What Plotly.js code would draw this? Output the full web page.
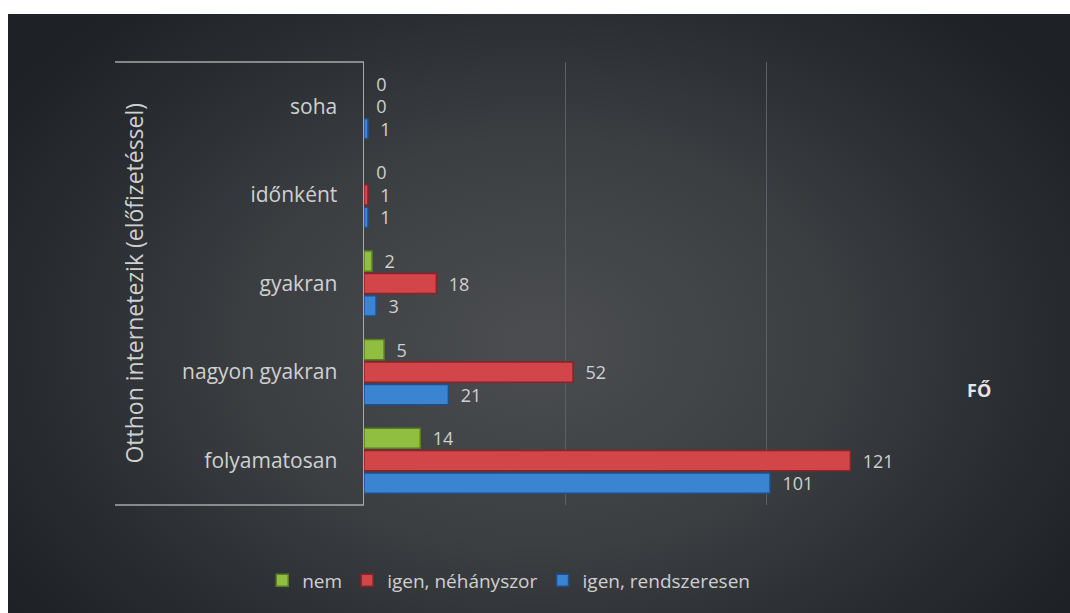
<!DOCTYPE html>
<html>
<head>
<meta charset="utf-8">
<script src="https://cdn.plot.ly/plotly-3.0.1.min.js"></script>
<style>
html,body{margin:0;padding:0;background:#ffffff;width:1070px;height:613px;overflow:hidden;}
#bg{position:absolute;left:8px;top:14px;width:1062px;height:599px;
background:radial-gradient(ellipse 60% 75% at 50% 55%, #4b4d50 0%, #3c3f42 45%, #2a2d31 75%, #1e2125 100%);}
#chart{position:absolute;left:0;top:0;width:1070px;height:613px;}
</style>
</head>
<body>
<div id="bg"></div>
<div id="chart"></div>
<script>
const categories = ["folyamatosan", "nagyon gyakran", "gyakran", "időnként", "soha"];
const seriesNames = ["igen, rendszeresen", "igen, néhányszor", "nem"];
const rendszeresen = [101, 21, 3, 1, 1];
const nehanyszor = [121, 52, 18, 1, 0];
const nem = [14, 5, 2, 0, 0];
const axisTitle = "Otthon internetezik (előfizetéssel)";
const unitLabel = "FŐ";

const fontFam = "'Open Sans', 'Noto Sans', sans-serif";
const txtCol = "#d0d0d0";

function mk(name, vals, fill, edge) {
  return {
    type: "bar", orientation: "h", name: name,
    y: categories, x: vals,
    texttemplate: "\u00a0\u00a0%{x}", textposition: "outside",
    constraintext: "none", cliponaxis: false,
    textfont: {family: fontFam, size: 18, color: txtCol},
    marker: {color: fill, line: {color: edge, width: vals.map(v => v > 0 ? 1.5 : 0)}},
    hoverinfo: "x+name"
  };
}

const data = [
  mk(seriesNames[0], rendszeresen, "#3a84d2", "#1f4f8a"),
  mk(seriesNames[1], nehanyszor, "#d2464a", "#8a2227"),
  mk(seriesNames[2], nem, "#8fbe40", "#5a7d22")
];

const layout = {
  width: 1070, height: 613,
  paper_bgcolor: "rgba(0,0,0,0)", plot_bgcolor: "rgba(0,0,0,0)",
  margin: {l: 364, r: 103, t: 62, b: 108},
  barmode: "group", bargap: 0.24, bargroupgap: 0.1,
  font: {family: fontFam, color: txtCol},
  xaxis: {range: [0, 150], dtick: 50, showticklabels: false, zeroline: false,
          showgrid: true, gridcolor: "#5c5f63", gridwidth: 1, fixedrange: true},
  yaxis: {type: "category", showline: true, linecolor: "#a9a9a9", linewidth: 1.5,
          showgrid: false, ticks: "", ticklabelstandoff: 21,
          tickfont: {family: fontFam, size: 21, color: txtCol}, fixedrange: true},
  showlegend: true,
  legend: {orientation: "h", traceorder: "reversed", x: 0.24, xanchor: "center",
           y: -0.17, yanchor: "middle", font: {family: fontFam, size: 19, color: txtCol},
           itemwidth: 30, bgcolor: "rgba(0,0,0,0)"},
  shapes: [
    {type: "line", xref: "paper", yref: "paper", x0: -0.413, x1: 0, y0: 1, y1: 1,
     line: {color: "#a9a9a9", width: 1.5}},
    {type: "line", xref: "paper", yref: "paper", x0: -0.413, x1: 0, y0: 0, y1: 0,
     line: {color: "#a9a9a9", width: 1.5}}
  ],
  annotations: [
    {text: axisTitle, xref: "paper", yref: "paper", x: -0.383, y: 0.5, textangle: -90,
     xanchor: "center", yanchor: "middle",
     showarrow: false, font: {family: fontFam, size: 23, color: txtCol}},
    {text: "<b>" + unitLabel + "</b>", xref: "paper", yref: "paper", x: 1.02, y: 0.26,
     xanchor: "center", yanchor: "middle",
     showarrow: false, font: {family: fontFam, size: 18, color: "#e6e6e6"}}
  ]
};

Plotly.newPlot("chart", data, layout, {displayModeBar: false, staticPlot: true});
</script>
</body>
</html>
